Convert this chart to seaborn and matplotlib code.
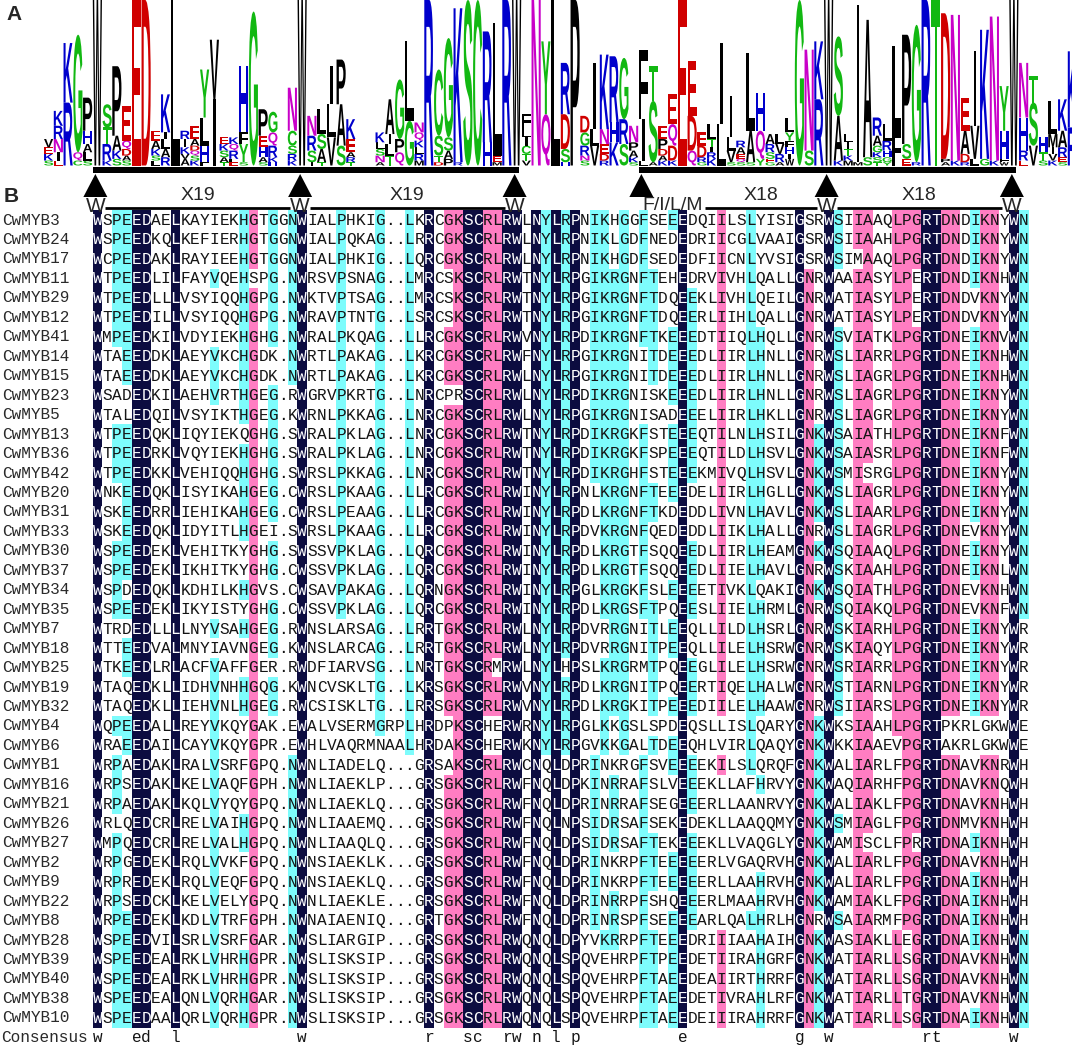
import numpy as np
import pandas as pd
import matplotlib
matplotlib.use('Agg')
import matplotlib.pyplot as plt
import seaborn as sns
from matplotlib.colors import ListedColormap
from matplotlib.textpath import TextPath
from matplotlib.font_manager import FontProperties
from matplotlib.patches import PathPatch, Polygon, Rectangle
from matplotlib.transforms import Affine2D

# ---- alignment data (panel B) ----
names = ['CwMYB3', 'CwMYB24', 'CwMYB17', 'CwMYB11', 'CwMYB29', 'CwMYB12', 'CwMYB41',
         'CwMYB14', 'CwMYB15', 'CwMYB23', 'CwMYB5', 'CwMYB13', 'CwMYB36', 'CwMYB42',
         'CwMYB20', 'CwMYB31', 'CwMYB33', 'CwMYB30', 'CwMYB37', 'CwMYB34', 'CwMYB35',
         'CwMYB7', 'CwMYB18', 'CwMYB25', 'CwMYB19', 'CwMYB32', 'CwMYB4', 'CwMYB6',
         'CwMYB1', 'CwMYB16', 'CwMYB21', 'CwMYB26', 'CwMYB27', 'CwMYB2', 'CwMYB9',
         'CwMYB22', 'CwMYB8', 'CwMYB28', 'CwMYB39', 'CwMYB40', 'CwMYB38', 'CwMYB10']

sequences = [
    "WSPEEDAELKAYIEKHGTGGNWIALPHKIG..LKRCGKSCRLRWLN" "YLRPNIKHGGFSEEEDQIILSLYISIGSRWSIIAAQLPGRTDNDIKNYWN",
    "WSPEEDKQLKEFIERHGTGGNWIALPQKAG..LRRCGKSCRLRWLN" "YLRPNIKLGDFNEDEDRIICGLVAAIGSRWSIIAAHLPGRTDNDIKNYWN",
    "WCPEEDAKLRAYIEEHGTGGNWIALPHKIG..LQRCGKSCRLRWLN" "YLRPNIKHGDFSEDEDFIICNLYVSIGSRWSIMAAQLPGRTDNDIKNYWN",
    "WTPEEDLILFAYVQEHSPG.NWRSVPSNAG..LMRCSKSCRLRWTN" "YLRPGIKRGNFTEHEDRVIVHLQALLGNRWAAIASYLPERTDNDIKNHWN",
    "WTPEEDLLLVSYIQQHGPG.NWKTVPTSAG..LMRCSKSCRLRWTN" "YLRPGIKRGNFTDQEEKLIVHLQEILGNRWATIASYLPERTDNDVKNYWN",
    "WTPEEDILLVSYIQQHGPG.NWRAVPTNTG..LSRCSKSCRLRWTN" "YLRPGIKRGNFTDQEERLIIHLQALLGNRWATIASYLPERTDNDVKNYWN",
    "WMPEEDKILVDYIEKHGHG.NWRALPKQAG..LLRCGKSCRLRWVN" "YLRPDIKRGNFTKEEEDTIIQLHQLLGNRWSVIATKLPGRTDNEIKNVWN",
    "WTAEEDDKLAEYVKCHGDK.NWRTLPAKAG..LKRCGKSCRLRWFN" "YLRPGIKRGNITDEEEDLIIRLHNLLGNRWSLIARRLPGRTDNEIKNHWN",
    "WTAEEDDKLAEYVKCHGDK.NWRTLPAKAG..LKRCGKSCRLRWLN" "YLRPGIKRGNITDEEEDLIIRLHNLLGNRWSLIAGRLPGRTDNEIKNHWN",
    "WSADEDKILAEHVRTHGEG.RWGRVPKRTG..LNRCPRSCRLRWLN" "YLRPDIKRGNISKEEEDLIIRLHNLLGNRWSLIAGRLPGRTDNEIKNYWN",
    "WTALEDQILVSYIKTHGEG.KWRNLPKKAG..LNRCGKSCRLRWLN" "YLRPGIKRGNISADEEELIIRLHKLLGNRWSLIAGRLPGRTDNEIKNYWN",
    "WTPEEDQKLIQYIEKQGHG.SWRALPKLAG..LNRCGKSCRLRWTN" "YLRPDIKRGKFSTEEEQTILNLHSILGNKWSAIATHLPGRTDNEIKNFWN",
    "WTPEEDRKLVQYIEKHGHG.SWRALPKLAG..LNRCGKSCRLRWTN" "YLRPDIKRGKFSPEEEQTILDLHSVLGNKWSAIASRLPGRTDNEIKNFWN",
    "WTPEEDKKLVEHIQQHGHG.SWRSLPKKAG..LNRCGKSCRLRWTN" "YLRPDIKRGHFSTEEEKMIVQLHSVLGNKWSMISRGLPGRTDNEIKNYWN",
    "WNKEEDQKLISYIKAHGEG.CWRSLPKAAG..LLRCGKSCRLRWIN" "YLRPNLKRGNFTEEEDELIIRLHGLLGNKWSLIAGRLPGRTDNEIKNYWN",
    "WSKEEDRRLIEHIKAHGEG.CWRSLPEAAG..LLRCGKSCRLRWIN" "YLRPDLKRGNFTKDEDDLIVNLHAVLGNKWSLIAARLPGRTDNEIKNYWN",
    "WSKEEDQKLIDYITLHGEI.SWRSLPKAAG..LLRCGKSCRLRWIN" "YLRPDVKRGNFQEDEDDLIIKLHALLGNRWSLIAGRLPGRTDNEVKNYWN",
    "WSPEEDEKLVEHITKYGHG.SWSSVPKLAG..LQRCGKSCRLRWIN" "YLRPDLKRGTFSQQEEDLIIRLHEAMGNKWSQIAAQLPGRTDNEIKNYWN",
    "WSPEEDEKLIKHITKYGHG.CWSSVPKLAG..LQRCGKSCRLRWIN" "YLRPDLKRGTFSQQEEDLIIELHAVLGNRWSKIAAHLPGRTDNEIKNLWN",
    "WSPDEDQKLKDHILKHGVS.CWSAVPAKAG..LQRNGKSCRLRWIN" "YLRPGLKRGKFSLEEEETIVKLQAKIGNKWSQIATHLPGRTDNEVKNHWN",
    "WSPEEDEKLIKYISTYGHG.CWSSVPKLAG..LQRCGKSCRLRWIN" "YLRPDLKRGSFTPQEESLIIELHRMLGNRWSQIAKQLPGRTDNEVKNFWN",
    "WTRDEDLLLLNYVSAHGEG.RWNSLARSAG..LRRTGKSCRLRWLN" "YLRPDVRRGNITLEEQLLILDLHSRLGNRWSKIARHLPGRTDNEIKNYWR",
    "WTTEEDVALMNYIAVNGEG.KWNSLARCAG..LRRTGKSCRLRWLN" "YLRPDVRRGNITPEEQLLILELHSRWGNRWSKIAQYLPGRTDNEIKNYWR",
    "WTKEEDLRLACFVAFFGER.RWDFIARVSG..LNRTGKSCRMRWLN" "YLHPSLKRGRMTPQEEGLILELHSRWGNRWSRIARRLPGRTDNEIKNYWR",
    "WTAQEDKLLIDHVNHHGQG.KWNCVSKLTG..LKRSGKSCRLRWVN" "YLRPDLKRGNITPQEERTIQELHALWGNRWSTIARNLPGRTDNEIKNYWR",
    "WTAQEDKLLIEHVNLHGEG.RWCSISKLTG..LRRSGKSCRLRWVN" "YLRPDLKRGKITPEEEDIILELHAAWGNRWSIIARSLPGRTDNEIKNYWR",
    "WQPEEDALLREYVKQYGAK.EWALVSERMGRPLHRDPKSCHERWRN" "YLRPGLKKGSLSPDEQSLLISLQARYGNKWKSIAAHLPGRTPKRLGKWWE",
    "WRAEEDAILCAYVKQYGPR.EWHLVAQRMNAALHRDAKSCHERWKN" "YLRPGVKKGALTDEEQHLVIRLQAQYGNKWKKIAAEVPGRTAKRLGKWWE",
    "WRPAEDAKLRALVSRFGPQ.NWNLIADELQ...GRSAKSCRLRWCN" "QLDPRINKRGFSVEEEEKILSLQRQFGNKWALIARLFPGRTDNAVKNRWH",
    "WRPSEDAKLKELVAQFGPH.NWNLIAEKLP...GRSGKSCRLRWFN" "QLDPKINRRAFSLVEEEKLLAFHRVYGNKWAQIARHFPGRTDNAVKNQWH",
    "WRPAEDAKLKQLVYQYGPQ.NWNLIAEKLQ...GRSGKSCRLRWFN" "QLDPRINRRAFSEGEEERLLAANRVYGNKWALIAKLFPGRTDNAVKNHWH",
    "WRLQEDCRLRELVAIHGPQ.NWNLIAAEMQ...GRSGKSCRLRWFN" "QLNPSIDRSAFSEKEDEKLLAAQQMYGNKWSMIAGLFPGRTDNMVKNHWH",
    "WMPQEDCRLRELVALHGPQ.NWNLIAAQLQ...GRSGKSCRLRWFN" "QLDPSIDRSAFTEKEEEKLLVAQGLYGNKWAMISCLFPRRTDNAIKNHWH",
    "WRPGEDEKLRQLVVKFGPQ.NWNSIAEKLK...GRSGKSCRLRWFN" "QLDPRINKRPFTEEEEERLVGAQRVHGNKWALIARLFPGRTDNAVKNHWH",
    "WRPREDEKLRQLVEQFGPQ.NWNSIAEKLQ...GRSGKSCRLRWFN" "QLDPRINKRPFTEEEEERLLAAHRVHGNKWALIARLFPGRTDNAIKNHWH",
    "WRPSEDCKLKELVELYGPQ.NWNLIAEKLE...GRSGKSCRLRWFN" "QLDPRINRRPFSHQEEERLMAAHRVHGNKWAMIAKLFPGRTDNAIKNHWH",
    "WRPEEDEKLKDLVTRFGPH.NWNAIAENIQ...GRTGKSCRLRWFN" "QLDPRINRSPFSEEEEARLQALHRLHGNRWSAIARMFPGRTDNAIKNHWH",
    "WSPEEDVILSRLVSRFGAR.NWSLIARGIP...GRSGKSCRLRWQN" "QLDPYVKRRPFTEEEDRIIIAAHAIHGNKWASIAKLLEGRTDNAIKNHWN",
    "WSPEEDEALRKLVHRHGPR.NWSLISKSIP...GRSGKSCRLRWQN" "QLSPQVEHRPFTPEEDETIIRAHGRFGNKWATIARLLSGRTDNAVKNHWN",
    "WSPEEDEALRKLVHRHGPR.NWSLISKSIP...GRSGKSCRLRWQN" "QLSPQVEHRPFTAEEDEAIIRTHRRFGNKWATIARLLSGRTDNAVKNHWN",
    "WSPEEDEALQNLVQRHGAR.NWSLISKSIP...GRSGKSCRLRWQN" "QLSPQVEHRPFTAEEDETIVRAHLRFGNKWATIARLLTGRTDNAVKNHWN",
    "WSPEEDAALQRLVQRHGPR.NWSLISKSIP...GRSGKSCRLRWQN" "QLSPQVEHRPFTAEEDEIIIRAHRRFGNKWATIARLLSGRTDNAIKNHWN",
]

# ---- sequence logo data (panel A): column, letters top->bottom, heights (fraction of max) ----
logo_pos = [-4, -3, -2, -1, 0, 1, 2, 3, 4, 5, 6, 7, 8, 9, 10, 11, 12, 13, 14, 15, 16, 17, 18, 19,
            21, 22, 23, 24, 25, 26, 27, 30, 31, 32, 33, 34, 35, 36, 37, 38, 39, 40, 41, 42, 43,
            44, 45, 46, 47, 48, 49, 50, 51, 52, 53, 54, 55, 56, 57, 58, 59, 60, 61, 62, 63, 64,
            65, 66, 67, 68, 69, 70, 71, 72, 73, 74, 75, 76, 77, 78, 79, 80, 81, 82, 83, 84, 85,
            86, 87, 88, 89, 90, 91, 92, 93, 94, 95, 96, 97, 98, 99, 100, 101]
logo_letters = ["VEKS", "KRNIE", "KR", "GQC", "PHALS", "W", "STRK", "PAKS", "EQDAS", "E", "D",
                "EAKSL", "KILAR", "L", "RIKVA", "EADQSK", "YLHF", "VI", "EKSAT", "KQRLE", "HFYS",
                "G", "PEHAS", "GQRKH", "NCSRK", "W", "NRSI", "LSAT", "ILV", "PAS", "KEART",
                "KLSNA", "AILT", "GPQ", "LG", "NQKLRM", "R", "CSTD", "GSAP", "KR", "S", "C", "RH",
                "LEM", "R", "W", "FLICTV", "N", "YQ", "L", "RDSH", "P", "DGRNS", "ILV", "KNEDR",
                "RHK", "GRS", "NPAKS", "FIL", "TSA", "EPDAK", "EQDK", "E", "EDQ", "EDRG", "LTIRK",
                "IL", "ILVS", "RAEQS", "LAS", "HQY", "ARSEG", "LVRA", "LYFHIW", "G", "NS", "KR",
                "W", "SAK", "LITKM", "IM", "AS", "RAGKST", "LRHGY", "LF", "PSE", "GR", "R", "T",
                "DPA", "NK", "EADR", "IVL", "KG", "NK", "YHFW", "W", "NHRE", "TSV", "HTS", "LMIVK",
                "KARES", "KR"]
logo_heights = [[.05, .04, .04, .03], [.09, .08, .08, .05, .03], [.36, .38], [.71, .05, .03],
                [.2, .08, .05, .05, .03], [1.0], [.14, .1, .1, .03], [.42, .09, .05, .04],
                [.21, .05, .04, .03, .03], [1.0], [1.0], [.06, .05, .04, .03, .03],
                [.23, .04, .06, .05, .05], [1.0], [.05, .05, .04, .03, .04],
                [.08, .04, .03, .03, .03, .03], [.29, .17, .1, .02], [.36, .4],
                [.04, .04, .04, .03, .02], [.04, .04, .05, .02, .02], [.4, .07, .11, .02], [.93],
                [.16, .07, .06, .03, .02], [.125, .08, .07, .03, .02], [.26, .09, .05, .04, .03],
                [1.0], [.12, .09, .07, .02], [.15, .09, .08, .02], [.23, .2, .17], [.27, .25, .12],
                [.12, .08, .03, .03, .02], [.06, .04, .04, .04, .02], [.21, .06, .07, .06],
                [.36, .08, .08], [.48, .27], [.06, .05, .04, .04, .04, .03], [1.0],
                [.4, .12, .04, .02], [.6, .08, .05, .04], [.93, .02], [1.0], [1.0], [.67, .14],
                [.8, .04, .02], [1.0], [1.0], [.08, .06, .05, .05, .04, .03], [1.0], [.44, .31],
                [1.0], [.31, .21, .08, .02], [1.0], [.1, .08, .06, .03, .03], [.4, .1, .12],
                [.45, .09, .06, .04, .03], [.4, .12, .14], [.37, .15, .13],
                [.1, .05, .04, .03, .02], [.42, .25, .03], [.21, .37, .02],
                [.08, .06, .04, .03, .03], [.18, .13, .09, .03], [1.0], [.33, .21, .09],
                [.08, .07, .03, .02], [.09, .05, .03, .04, .04], [.49, .25], [.25, .08, .07, .02],
                [.04, .04, .03, .02, .02], [.47, .19, .02], [.23, .17, .04],
                [.06, .05, .04, .02, .02], [.06, .06, .05, .02], [.09, .05, .04, .04, .03, .04],
                [1.0], [.61, .09], [.35, .4], [1.0], [.48, .27, .03], [.05, .04, .04, .03, .03],
                [.95, .02], [.83, .05], [.11, .06, .04, .03, .03, .02], [.1, .06, .04, .03, .02],
                [.52, .2], [.66, .09, .04], [.83, .02], [1.0], [1.0], [.88, .02, .02], [.88, .03],
                [.2, .14, .05, .02], [.45, .2, .04], [.78, .04], [.87, .03],
                [.27, .17, .02, .02], [1.0], [.33, .2, .06, .03], [.16, .26, .12],
                [.09, .05, .03], [.2, .08, .04, .04, .03], [.19, .1, .06, .03, .02], [.46, .23]]

# motif markers above the alignment
mark_cols = [1, 22, 44, 57, 76, 95]
mark_labels = ['W', 'W', 'W', 'F/I/L/M', 'W', 'W']
spacer_labels = ['X19', 'X19', None, 'X18', 'X18']
bar_spans = [(1, 44), (57, 95)]

# ---- layout (pixels) ----
FIG_W, FIG_H = 1072, 1046
X0, CW = 92.5, 9.75
ROW0, RH = 210.3, 19.46
BASE, LOGO_H = 165.5, 165.5

NAVY, PINK, CYAN = '#0C0C40', '#FF7DC2', '#7DFCFC'
chem = {}
for c in 'AVLIPWFM':
    chem[c] = '#000000'
for c in 'GSTYC':
    chem[c] = '#12B812'
for c in 'NQ':
    chem[c] = '#C800C8'
for c in 'KRH':
    chem[c] = '#0000CC'
for c in 'DE':
    chem[c] = '#D00000'

n_cols = 96
seqs = [s[:n_cols].ljust(n_cols, '.') for s in sequences]
letters = np.array([list(s) for s in seqs])
n_rows = len(seqs)

# conservation level per cell: 3 = 100%, 2 = >=75%, 1 = >=50%
level = np.zeros(letters.shape, dtype=int)
consensus = []
for j in range(n_cols):
    col = letters[:, j]
    res = col[col != '.']
    vals, counts = np.unique(res, return_counts=True)
    top = vals[counts.argmax()]
    frac = counts.max() / n_rows
    lv = 3 if frac == 1 else 2 if frac >= 0.75 else 1 if frac >= 0.5 else 0
    level[col == top, j] = lv
    consensus.append(top.lower() if lv == 3 else ' ')

sns.set_style('white')
plt.rcParams['font.family'] = ['Liberation Sans', 'DejaVu Sans']

fig = plt.figure(figsize=(FIG_W / 100, FIG_H / 100), dpi=100)
ax = fig.add_axes([X0 / FIG_W, 1 - (ROW0 + n_rows * RH) / FIG_H,
                   n_cols * CW / FIG_W, n_rows * RH / FIG_H])
sns.heatmap(pd.DataFrame(level), ax=ax, cmap=ListedColormap(['white', CYAN, PINK, NAVY]),
            vmin=-0.5, vmax=3.5, cbar=False, annot=False,
            xticklabels=False, yticklabels=False, linewidths=0)
ax.set_xlabel('')
ax.set_ylabel('')

mono = dict(fontfamily='Liberation Mono', fontsize=11.6)
for i in range(n_rows):
    for j in range(n_cols):
        ax.text(j + 0.5, i + 0.52, letters[i, j], ha='center', va='center',
                color='white' if level[i, j] == 3 else '#141414', **mono)

ov = fig.add_axes([0, 0, 1, 1])
ov.set_xlim(0, FIG_W)
ov.set_ylim(FIG_H, 0)
ov.axis('off')
ov.patch.set_alpha(0)

for i, nm in enumerate(names):
    ov.text(2, ROW0 + (i + 0.5) * RH, nm, ha='left', va='center', color='#2a2a2a', **mono)
ov.text(1, ROW0 + (n_rows + 0.5) * RH, 'Consensus', ha='left', va='center', color='#2a2a2a', **mono)
for j, c in enumerate(consensus):
    if c != ' ':
        ov.text(X0 + (j + 0.5) * CW, ROW0 + (n_rows + 0.5) * RH, c, ha='center', va='center',
                color='#141414', **mono)


def col_center(k):
    return X0 + (k - 0.5) * CW


# ---- logo ----
fp = FontProperties(family='Liberation Sans', weight='bold')
_glyphs = {}


def draw_letter(ch, xc, ybot, w, h, color):
    if ch not in _glyphs:
        _glyphs[ch] = TextPath((0, 0), ch, size=100, prop=fp)
    p = _glyphs[ch]
    bb = p.get_extents()
    tr = (Affine2D().translate(-bb.x0 - bb.width / 2, -bb.y0)
          .scale(w / bb.width, -h / bb.height).translate(xc, ybot))
    ov.add_patch(PathPatch(tr.transform_path(p), fc=color, ec='none', lw=0))


for k, lets, hs in zip(logo_pos, logo_letters, logo_heights):
    y = BASE
    for ch, h in reversed(list(zip(lets, hs))):
        hp = h * LOGO_H
        w = CW * (0.28 if ch == 'I' else 0.94)
        draw_letter(ch, col_center(k), y, w, hp, chem[ch])
        y -= hp

# ---- motif bars, triangles and labels ----
for a, b in bar_spans:
    x1 = X0 + (a - 1) * CW
    x2 = X0 + b * CW - 3
    ov.add_patch(Rectangle((x1, 167.2), x2 - x1, 6, color='black', lw=0))

lab_half = []
for k, lab in zip(mark_cols, mark_labels):
    xc = col_center(k) - 2
    ov.add_patch(Polygon([[xc - 12, 197], [xc + 12, 197], [xc, 174]], closed=True,
                         color='black', lw=0))
    if lab == 'W':
        ov.text(xc, 206, lab, ha='center', va='center', fontsize=15)
        lab_half.append((xc - 10, xc + 10))
    else:
        ov.text(xc + 1, 206, lab, ha='left', va='center', fontsize=14)
        lab_half.append((xc - 10, xc + 64))

for i, lab in enumerate(spacer_labels):
    if lab is None:
        continue
    xa = lab_half[i][1]
    xb = lab_half[i + 1][0]
    ov.plot([xa, xb], [208, 208], color='black', lw=2, solid_capstyle='butt')
    ov.text((xa + xb) / 2, 195.5, lab, ha='center', va='center', fontsize=14)

ov.text(6, 15, 'A', ha='left', va='center', fontsize=15, fontweight='bold')
ov.text(4, 196, 'B', ha='left', va='center', fontsize=15, fontweight='bold')

fig.savefig('out.png', dpi=100)
